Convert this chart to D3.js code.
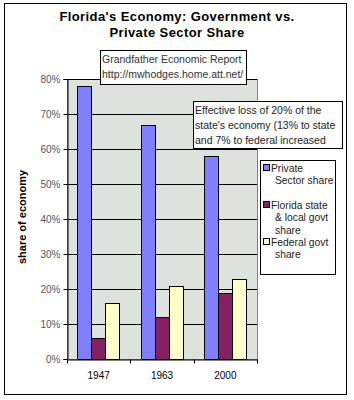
<!DOCTYPE html>
<html>
<head>
<script src="https://cdn.jsdelivr.net/npm/d3@7"></script>
<style>
  body { margin: 0; background: #fff; }
  text { font-family: Arial, "Liberation Sans", sans-serif; }
</style>
</head>
<body>
<svg id="chart" width="354" height="400"></svg>
<script>
// data
var years = ["1947", "1963", "2000"];
var seriesNames = ["Private Sector share", "Florida state & local govt share", "Federal govt share"];
var privateShare = [78, 67, 58];
var stateShare = [6, 12, 19];
var federalShare = [16, 21, 23];
var yTicks = [0, 10, 20, 30, 40, 50, 60, 70, 80];
var colors = ["#8080ff", "#862065", "#ffffcc"];

var svg = d3.select("#chart");

// outer border
svg.append("rect").attr("x", 4.5).attr("y", 3.5).attr("width", 342).attr("height", 391)
   .attr("fill", "#fff").attr("stroke", "#000");

// title
svg.append("text").attr("x", 177).attr("y", 21).attr("text-anchor", "middle")
   .style("font-size", "13px").style("font-weight", "bold").style("letter-spacing", "0.4px")
   .text("Florida's Economy: Government vs.");
svg.append("text").attr("x", 177).attr("y", 37).attr("text-anchor", "middle")
   .style("font-size", "13px").style("font-weight", "bold").style("letter-spacing", "0.4px")
   .text("Private Sector Share");

var plotL = 67, plotR = 257, plotT = 79, plotB = 359;

var y = d3.scaleLinear().domain([0, 80]).range([plotB, plotT]);
var x = d3.scaleBand().domain(years).range([plotL, plotR]).paddingInner(0.33).paddingOuter(0.165);
var xs = d3.scaleBand().domain([0, 1, 2]).range([0, x.bandwidth()]);

// plot area
svg.append("rect").attr("x", plotL + 0.5).attr("y", plotT + 0.5).attr("width", plotR - plotL).attr("height", plotB - plotT)
   .attr("fill", "#dde3dc").attr("stroke", "#808080");

// gridlines
svg.append("g").selectAll("line").data(yTicks.slice(1)).enter().append("line")
   .attr("x1", plotL).attr("x2", plotR)
   .attr("y1", function(d) { return Math.round(y(d)) + 0.5; })
   .attr("y2", function(d) { return Math.round(y(d)) + 0.5; })
   .attr("stroke", "#000");

// bars
var rows = years.map(function(yr, i) { return [privateShare[i], stateShare[i], federalShare[i]]; });
var groups = svg.append("g").selectAll("g").data(rows).enter().append("g")
   .attr("transform", function(d, i) { return "translate(" + Math.round(x(years[i])) + ",0)"; });
groups.selectAll("rect").data(function(d) { return d; }).enter().append("rect")
   .attr("x", function(d, j) { return Math.round(xs(j)) + 0.5; })
   .attr("y", function(d) { return Math.round(y(d)) + 0.5; })
   .attr("width", Math.round(xs.bandwidth()))
   .attr("height", function(d) { return Math.round(y(0)) - Math.round(y(d)); })
   .attr("fill", function(d, j) { return colors[j]; })
   .attr("stroke", "#000");

// y axis
var yAxis = d3.axisLeft(y).tickValues(yTicks).tickFormat(function(d) { return d + "%"; }).tickSize(4).tickPadding(3);
var ga = svg.append("g").attr("transform", "translate(" + (plotL + 0.5) + ",0)").call(yAxis);
ga.selectAll("text").style("font-size", "10px").attr("fill", "#555");
ga.selectAll(".tick line").attr("stroke", "#000");
ga.select(".domain").attr("stroke", "#000");

// x axis
var xAxis = d3.axisBottom(x).tickSize(0).tickPadding(12);
var gx = svg.append("g").attr("transform", "translate(0," + (plotB + 0.5) + ")").call(xAxis);
gx.selectAll("text").style("font-size", "10px").attr("fill", "#000");
gx.select(".domain").attr("stroke", "#000");
var step = x.step();
var bounds = [plotL, plotL + step, plotL + 2 * step, plotR];
gx.selectAll(".sep").data(bounds).enter().append("line")
   .attr("x1", function(d) { return Math.round(d) + 0.5; })
   .attr("x2", function(d) { return Math.round(d) + 0.5; })
   .attr("y1", 0).attr("y2", 4).attr("stroke", "#000");

// y label
svg.append("text").attr("transform", "translate(26,217) rotate(-90)").attr("text-anchor", "middle")
   .style("font-size", "11px").style("font-weight", "bold").text("share of economy");

// source note
svg.append("rect").attr("x", 100.5).attr("y", 50.5).attr("width", 146).attr("height", 34)
   .attr("fill", "#fff").attr("stroke", "#000");
svg.append("text").attr("x", 102).attr("y", 63).style("font-size", "10.5px").attr("fill", "#333")
   .text("Grandfather Economic Report");
svg.append("text").attr("x", 102).attr("y", 78).style("font-size", "10.5px").attr("fill", "#333")
   .text("http://mwhodges.home.att.net/");

// annotation
svg.append("rect").attr("x", 193.5).attr("y", 101.5).attr("width", 149).attr("height", 47)
   .attr("fill", "#fff").attr("stroke", "#000");
var noteLines = ["Effective loss of 20% of the", "state's economy (13% to state", "and 7% to federal increased"];
svg.append("g").selectAll("text").data(noteLines).enter().append("text")
   .attr("x", 195).attr("y", function(d, i) { return 114 + i * 15; })
   .style("font-size", "10.5px").attr("fill", "#222").text(function(d) { return d; });

// legend
svg.append("rect").attr("x", 260.5).attr("y", 160.5).attr("width", 75).attr("height", 114)
   .attr("fill", "#fff").attr("stroke", "#000");
var legendLines = [["Private", "Sector share"], ["Florida state", "& local govt", "share"], ["Federal govt", "share"]];
var legendY = [172, 209, 246];
var lg = svg.append("g").selectAll("g").data(seriesNames).enter().append("g");
lg.append("rect").attr("x", 263.5).attr("y", function(d, i) { return legendY[i] - 7.5; })
   .attr("width", 6).attr("height", 6)
   .attr("fill", function(d, i) { return colors[i]; }).attr("stroke", "#000");
lg.each(function(d, i) {
  d3.select(this).selectAll("text").data(legendLines[i]).enter().append("text")
    .attr("x", function(t, k) { return k === 0 ? 271 : 275; })
    .attr("y", function(t, k) { return legendY[i] + k * 12.3; })
    .style("font-size", "10.3px").attr("fill", "#222").text(function(t) { return t; });
});
</script>
</body>
</html>
